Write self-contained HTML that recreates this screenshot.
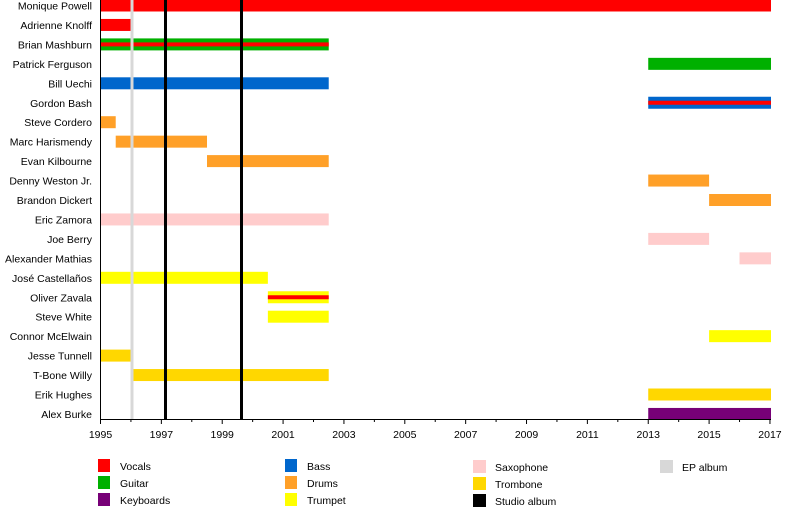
<!DOCTYPE html>
<html><head><meta charset="utf-8"><style>body{margin:0;background:#fff}svg{display:block}text{font-family:"Liberation Sans",sans-serif;font-size:10.5px;fill:#000}</style></head><body>
<svg width="800" height="508" xmlns="http://www.w3.org/2000/svg">
<g id="bars"></g>
<g text-anchor="end" id="labels"></g>
<line x1="132" y1="0" x2="132" y2="419" stroke="#d8d8d8" stroke-width="3"/>
<line x1="165.5" y1="0" x2="165.5" y2="419" stroke="#000" stroke-width="3"/>
<line x1="241.5" y1="0" x2="241.5" y2="419" stroke="#000" stroke-width="3"/>
<line x1="100.5" y1="0" x2="100.5" y2="420" stroke="#000" stroke-width="1"/>
<line x1="100" y1="419.5" x2="771" y2="419.5" stroke="#000" stroke-width="1"/>
<g id="ticks"></g>
<g>
<rect x="98" y="459" width="12" height="13" fill="#ff0000"/><text x="120" y="470">Vocals</text>
<rect x="98" y="476" width="12" height="13" fill="#00b000"/><text x="120" y="487">Guitar</text>
<rect x="98" y="493" width="12" height="13" fill="#770077"/><text x="120" y="504">Keyboards</text>
<rect x="285" y="459" width="12" height="13" fill="#0066cc"/><text x="307" y="470">Bass</text>
<rect x="285" y="476" width="12" height="13" fill="#ffa028"/><text x="307" y="487">Drums</text>
<rect x="285" y="493" width="12" height="13" fill="#ffff00"/><text x="307" y="504">Trumpet</text>
<rect x="473" y="460" width="13" height="13" fill="#ffcccc"/><text x="495" y="471">Saxophone</text>
<rect x="473" y="477" width="13" height="13" fill="#ffd700"/><text x="495" y="488">Trombone</text>
<rect x="473" y="494" width="13" height="13" fill="#000"/><text x="495" y="505">Studio album</text>
<rect x="660" y="460" width="13" height="13" fill="#d8d8d8"/><text x="682" y="471">EP album</text>
</g>
<script>
var ns="http://www.w3.org/2000/svg";
function X(y){return 100.5+(y-1995)*30.43;}
var C={v:"#ff0000",g:"#00b000",b:"#0066cc",d:"#ffa028",s:"#ffcccc",t:"#ffff00",tb:"#ffd700",k:"#770077"};
var rows=[
["Monique Powell",[[1995,2017.1,"v"]]],
["Adrienne Knolff",[[1995,1996,"v"]]],
["Brian Mashburn",[[1995,2002.5,"g","v"]]],
["Patrick Ferguson",[[2013,2017.05,"g"]]],
["Bill Uechi",[[1995,2002.5,"b"]]],
["Gordon Bash",[[2013,2017.05,"b","v"]]],
["Steve Cordero",[[1995,1995.5,"d"]]],
["Marc Harismendy",[[1995.5,1998.5,"d"]]],
["Evan Kilbourne",[[1998.5,2002.5,"d"]]],
["Denny Weston Jr.",[[2013,2015,"d"]]],
["Brandon Dickert",[[2015,2017.05,"d"]]],
["Eric Zamora",[[1995,2002.5,"s"]]],
["Joe Berry",[[2013,2015,"s"]]],
["Alexander Mathias",[[2016,2017.05,"s"]]],
["José Castellaños",[[1995,2000.5,"t"]]],
["Oliver Zavala",[[2000.5,2002.5,"t","v"]]],
["Steve White",[[2000.5,2002.5,"t"]]],
["Connor McElwain",[[2015,2017.05,"t"]]],
["Jesse Tunnell",[[1995,1996,"tb"]]],
["T-Bone Willy",[[1996,2002.5,"tb"]]],
["Erik Hughes",[[2013,2017.05,"tb"]]],
["Alex Burke",[[2013,2017.05,"k"]]]];
var B=document.getElementById("bars"),L=document.getElementById("labels"),T=document.getElementById("ticks");
function r(x,y,w,h,f){var e=document.createElementNS(ns,"rect");e.setAttribute("x",x);e.setAttribute("y",y);e.setAttribute("width",w);e.setAttribute("height",h);e.setAttribute("fill",f);B.appendChild(e);}
rows.forEach(function(row,i){var cy=5.5+19.45*i;
var t=document.createElementNS(ns,"text");t.setAttribute("x",92);t.setAttribute("y",cy+4);t.textContent=row[0];L.appendChild(t);
row[1].forEach(function(b){var x1=X(b[0]),x2=Math.min(X(b[1]),771);r(x1,cy-6,x2-x1,12,C[b[2]]);if(b[3])r(x1,cy-2,x2-x1,4,C[b[3]]);});});
for(var y=1995;y<=2017;y++){var x=X(y);var l=document.createElementNS(ns,"line");l.setAttribute("x1",x);l.setAttribute("x2",x);l.setAttribute("y1",419);l.setAttribute("y2",(y%2)?424:422);l.setAttribute("stroke","#000");T.appendChild(l);
if(y%2){var t=document.createElementNS(ns,"text");t.setAttribute("x",x);t.setAttribute("y",438);t.setAttribute("text-anchor","middle");t.textContent=y;T.appendChild(t);}}
</script>
</svg>
</body></html>
